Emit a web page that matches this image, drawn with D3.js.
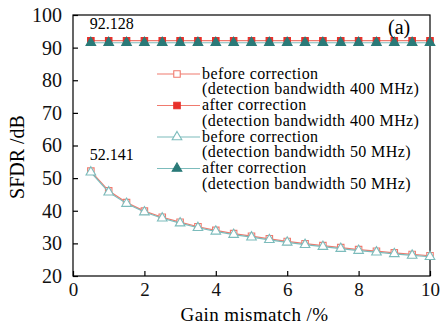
<!DOCTYPE html>
<html>
<head>
<meta charset="utf-8">
<script src="https://cdn.jsdelivr.net/npm/d3@7"></script>
<style>
  body { margin: 0; background: #fff; }
  svg { display: block; }
  text { font-family: "Liberation Serif", "Times New Roman", serif; }
</style>
</head>
<body>
<svg id="chart" width="442" height="324"></svg>
<script>
// gain mismatch, %
const gain = [0.5, 1, 1.5, 2, 2.5, 3, 3.5, 4, 4.5, 5, 5.5, 6, 6.5, 7, 7.5, 8, 8.5, 9, 9.5, 10]

// SFDR, dB
const before400 = [52.141, 46.1, 42.5, 39.9, 38.0, 36.5, 35.1, 34.0, 33.0, 32.2, 31.4, 30.6, 29.9, 29.3, 28.7, 28.1, 27.6, 27.1, 26.6, 26.2]
const after400 = [92.128, 92.128, 92.128, 92.128, 92.128, 92.128, 92.128, 92.128, 92.128, 92.128, 92.128, 92.128, 92.128, 92.128, 92.128, 92.128, 92.128, 92.128, 92.128, 92.128]
const before50 = [51.8, 45.7, 42.2, 39.6, 37.7, 36.2, 34.8, 33.7, 32.7, 31.9, 31.1, 30.3, 29.6, 29.0, 28.4, 27.8, 27.3, 26.8, 26.3, 25.9]
const after50 = [91.5, 91.5, 91.5, 91.5, 91.5, 91.5, 91.5, 91.5, 91.5, 91.5, 91.5, 91.5, 91.5, 91.5, 91.5, 91.5, 91.5, 91.5, 91.5, 91.5]

const xTicks = [0, 2, 4, 6, 8, 10]
const yTicks = [20, 30, 40, 50, 60, 70, 80, 90, 100]

const legendLabels = [
    ["before correction", "(detection bandwidth 400 MHz)"],
    ["after correction", "(detection bandwidth 400 MHz)"],
    ["before correction", "(detection bandwidth 50 MHz)"],
    ["after correction", "(detection bandwidth 50 MHz)"]
]

const FONT = "Liberation Serif"
const m = { left: 73, right: 430, top: 15, bottom: 276 }
const svg = d3.select("#chart")

const x = d3.scaleLinear().domain([0, 10]).range([m.left, m.right])
const y = d3.scaleLinear().domain([20, 100]).range([m.bottom, m.top])

const series = [
    { values: before400, line: "#f07a6e", stroke: "#f07a6e", fill: "#fff", shape: "square" },
    { values: after400, line: "#f07a6e", stroke: "#e8302a", fill: "#e8302a", shape: "square" },
    { values: before50, line: "#7cbcbc", stroke: "#7cbcbc", fill: "#fff", shape: "triangle" },
    { values: after50, line: "#7cbcbc", stroke: "#2a7a78", fill: "#2a7a78", shape: "triangle" }
]

function markerPath(shape) {
    if (shape === "square") return d3.symbol(d3.symbolSquare, 42)()
    return d3.symbol(d3.symbolTriangle, 40)()
}

// frame
svg.append("rect")
    .attr("x", m.left).attr("y", m.top)
    .attr("width", m.right - m.left).attr("height", m.bottom - m.top)
    .attr("fill", "none").attr("stroke", "#000").attr("stroke-width", 1.2)

// axes, ticks inside
const xAxis = svg.append("g")
    .attr("transform", `translate(0,${m.bottom})`)
    .call(d3.axisBottom(x).tickValues(xTicks).tickSizeInner(-5).tickSizeOuter(0).tickPadding(7))
const yAxis = svg.append("g")
    .attr("transform", `translate(${m.left},0)`)
    .call(d3.axisLeft(y).tickValues(yTicks).tickSizeInner(-5).tickSizeOuter(0).tickPadding(11))

for (const ax of [xAxis, yAxis]) {
    ax.attr("font-family", FONT).attr("font-size", null)
    ax.select(".domain").remove()
    ax.selectAll("line").attr("stroke", "#000").attr("stroke-width", 1.2)
    ax.selectAll("text").attr("font-family", FONT).attr("font-size", 20).attr("fill", "#111")
}
xAxis.selectAll("text").attr("font-size", 19)

// lines + markers
const line = d3.line().x((d, i) => x(gain[i])).y(d => y(d))
series.forEach(s => {
    svg.append("path")
        .datum(s.values)
        .attr("d", line)
        .attr("fill", "none")
        .attr("stroke", s.line)
        .attr("stroke-width", 1.2)
    svg.append("g").selectAll("path")
        .data(s.values)
        .enter()
        .append("path")
        .attr("d", markerPath(s.shape))
        .attr("transform", (d, i) => `translate(${x(gain[i])},${y(d)})`)
        .attr("fill", s.fill)
        .attr("stroke", s.stroke)
        .attr("stroke-width", 1.1)
})

// annotations
svg.append("text").attr("x", x(0.5) - 1).attr("y", 29)
    .attr("font-family", FONT).attr("font-size", 16).text("92.128")
svg.append("text").attr("x", x(0.5) - 1).attr("y", 160)
    .attr("font-family", FONT).attr("font-size", 16).text("52.141")
svg.append("text").attr("x", 388).attr("y", 34)
    .attr("font-family", FONT).attr("font-size", 20).text("(a)")

// legend
const lg = svg.append("g").attr("transform", "translate(157,74)")
legendLabels.forEach((lbl, i) => {
    const s = series[i]
    const row = lg.append("g").attr("transform", `translate(0,${i * 31.5})`)
    row.append("line").attr("x1", 0).attr("x2", 43).attr("y1", 0).attr("y2", 0)
        .attr("stroke", s.line).attr("stroke-width", 1.2)
    row.append("path").attr("d", markerPath(s.shape))
        .attr("transform", "translate(20,0)")
        .attr("fill", s.fill).attr("stroke", s.stroke).attr("stroke-width", 1.1)
    row.append("text").attr("x", 45).attr("y", 4.5)
        .attr("font-family", FONT).attr("font-size", 16).attr("letter-spacing", 0.4).text(lbl[0])
    row.append("text").attr("x", 45).attr("y", 20.2)
        .attr("font-family", FONT).attr("font-size", 16).attr("letter-spacing", 0.4).text(lbl[1])
})

// axis titles
svg.append("text")
    .attr("x", (m.left + m.right) / 2 + 3).attr("y", 321)
    .attr("text-anchor", "middle").attr("font-family", FONT).attr("font-size", 19)
    .attr("letter-spacing", 0.4)
    .text("Gain mismatch /%")
svg.append("text")
    .attr("transform", "translate(24,157) rotate(-90)")
    .attr("text-anchor", "middle").attr("font-family", FONT).attr("font-size", 20)
    .text("SFDR /dB")
</script>
</body>
</html>
